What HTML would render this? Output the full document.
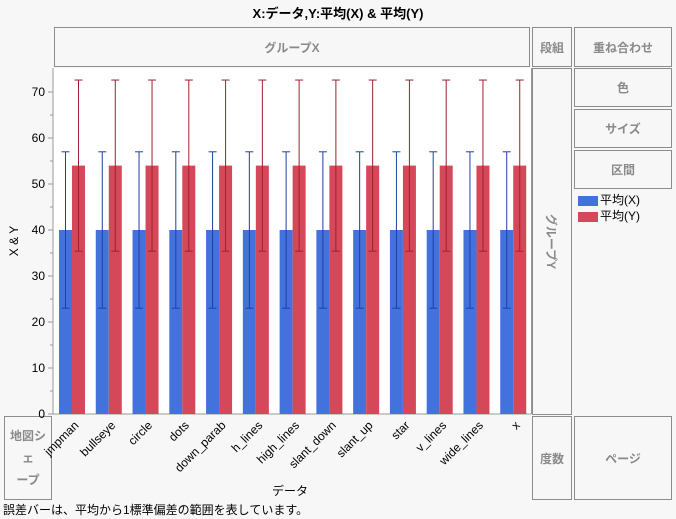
<!DOCTYPE html>
<html><head><meta charset="utf-8"><style>
body{margin:0;width:676px;height:519px;background:#f7f7f7;font-family:"Liberation Sans","Noto Sans CJK JP",sans-serif;overflow:hidden;position:relative}
.box{position:absolute;border:1px solid #8c8c8c;box-sizing:border-box;color:#8a8a8a;font-size:12px;font-weight:bold;display:flex;align-items:center;justify-content:center;background:#f7f7f7}
.t{position:absolute;font-size:12px;color:#000;white-space:nowrap}
</style></head><body>
<div class="t" style="left:0;width:676px;text-align:center;top:3px;font-weight:bold;font-size:13px">X:データ,Y:平均(X) &amp; 平均(Y)</div>
<div class="box" style="left:54px;top:27px;width:476px;height:40px">グループX</div>
<div class="box" style="left:532px;top:27px;width:40px;height:40px">段組</div>
<div class="box" style="left:574px;top:27px;width:98px;height:40px">重ね合わせ</div>
<div class="box" style="left:532px;top:68px;width:40px;height:347px"><span style="transform:rotate(90deg);white-space:nowrap;display:inline-block">グループY</span></div>
<div class="box" style="left:574px;top:68px;width:98px;height:39px">色</div>
<div class="box" style="left:574px;top:109px;width:98px;height:39px">サイズ</div>
<div class="box" style="left:574px;top:150px;width:98px;height:39px">区間</div>
<div class="t" style="left:578px;top:191px"><span style="display:inline-block;width:20px;height:10px;background:#4472dc;vertical-align:middle;margin-right:2px"></span>平均(X)</div>
<div class="t" style="left:578px;top:207px"><span style="display:inline-block;width:20px;height:10px;background:#d4485a;vertical-align:middle;margin-right:2px"></span>平均(Y)</div>
<div class="box" style="left:4px;top:416px;width:48px;height:84px;text-align:center;line-height:22px">地図シェ<br>ープ</div>
<div class="box" style="left:532px;top:416px;width:40px;height:84px">度数</div>
<div class="box" style="left:574px;top:416px;width:98px;height:84px">ページ</div>
<div class="t" style="left:272px;top:482px">データ</div>
<div class="t" style="left:3px;top:501px">誤差バーは、平均から1標準偏差の範囲を表しています。</div>
<svg id="c" width="676" height="519" style="position:absolute;left:0;top:0"></svg>
<script>
const categories=["jmpman","bullseye","circle","dots","down_parab","h_lines","high_lines","slant_down","slant_up","star","v_lines","wide_lines","x"];
const meanX=[40,40,40,40,40,40,40,40,40,40,40,40,40];
const meanY=[54,54,54,54,54,54,54,54,54,54,54,54,54];
const sdX=[17,17,17,17,17,17,17,17,17,17,17,17,17];
const sdY=[18.6,18.6,18.6,18.6,18.6,18.6,18.6,18.6,18.6,18.6,18.6,18.6,18.6];
const yTicks=[0,10,20,30,40,50,60,70];
const svg=document.getElementById('c');const NS='http://www.w3.org/2000/svg';
const L=53,R=531,T=68,B=414;
const y=v=>B-v*4.6;const bw=(R-L)/categories.length;const x=i=>L+i*bw;
function mk(t,a,p){const e=document.createElementNS(NS,t);for(const k in a)e.setAttribute(k,a[k]);(p||svg).appendChild(e);return e;}
const bg=mk('rect',{x:L,y:T,width:R-L,height:B-T,fill:'#fff'});


mk('line',{x1:L,y1:T,x2:L,y2:B,stroke:'#999'});
mk('line',{x1:L,y1:B,x2:R,y2:B,stroke:'#999'});
mk('rect',{x:R,y:T,width:1,height:B-T,fill:'#999'});
yTicks.forEach(v=>{mk('line',{x1:L-5,y1:y(v),x2:L,y2:y(v),stroke:'#999'});
const t=mk('text',{x:L-8,y:y(v)+4,'text-anchor':'end','font-size':12,fill:'#000'});t.textContent=v;


if(v<70)mk('line',{x1:L-3,y1:y(v+5),x2:L,y2:y(v+5),stroke:'#999'});});
const yl=mk('text',{x:18,y:241,'text-anchor':'middle','font-size':12,transform:'rotate(-90 18 241)'});yl.textContent='X & Y';


function eb(cx,m,s,c){mk('line',{x1:cx,y1:y(m-s),x2:cx,y2:y(m+s),stroke:c});
mk('line',{x1:cx-4,y1:y(m+s),x2:cx+4,y2:y(m+s),stroke:c});mk('line',{x1:cx-4,y1:y(m-s),x2:cx+4,y2:y(m-s),stroke:c});}
categories.forEach((c,i)=>{const x0=x(i)+6;
const b1=mk('rect',{x:x0,y:y(meanX[i]),width:13,height:B-y(meanX[i]),fill:'#4472dc'});


const b2=mk('rect',{x:x0+13,y:y(meanY[i]),width:13,height:B-y(meanY[i]),fill:'#d4485a'});


eb(x0+6.5,meanX[i],sdX[i],'#1f3fa0');eb(x0+19.5,meanY[i],sdY[i],'#a01f2e');
const tx=x(i)+bw/2+8;
const t=mk('text',{x:tx,y:B+12,'text-anchor':'end','font-size':12,transform:`rotate(-45 ${tx} ${B+12})`});t.textContent=c;

});
</script>
</body></html>
